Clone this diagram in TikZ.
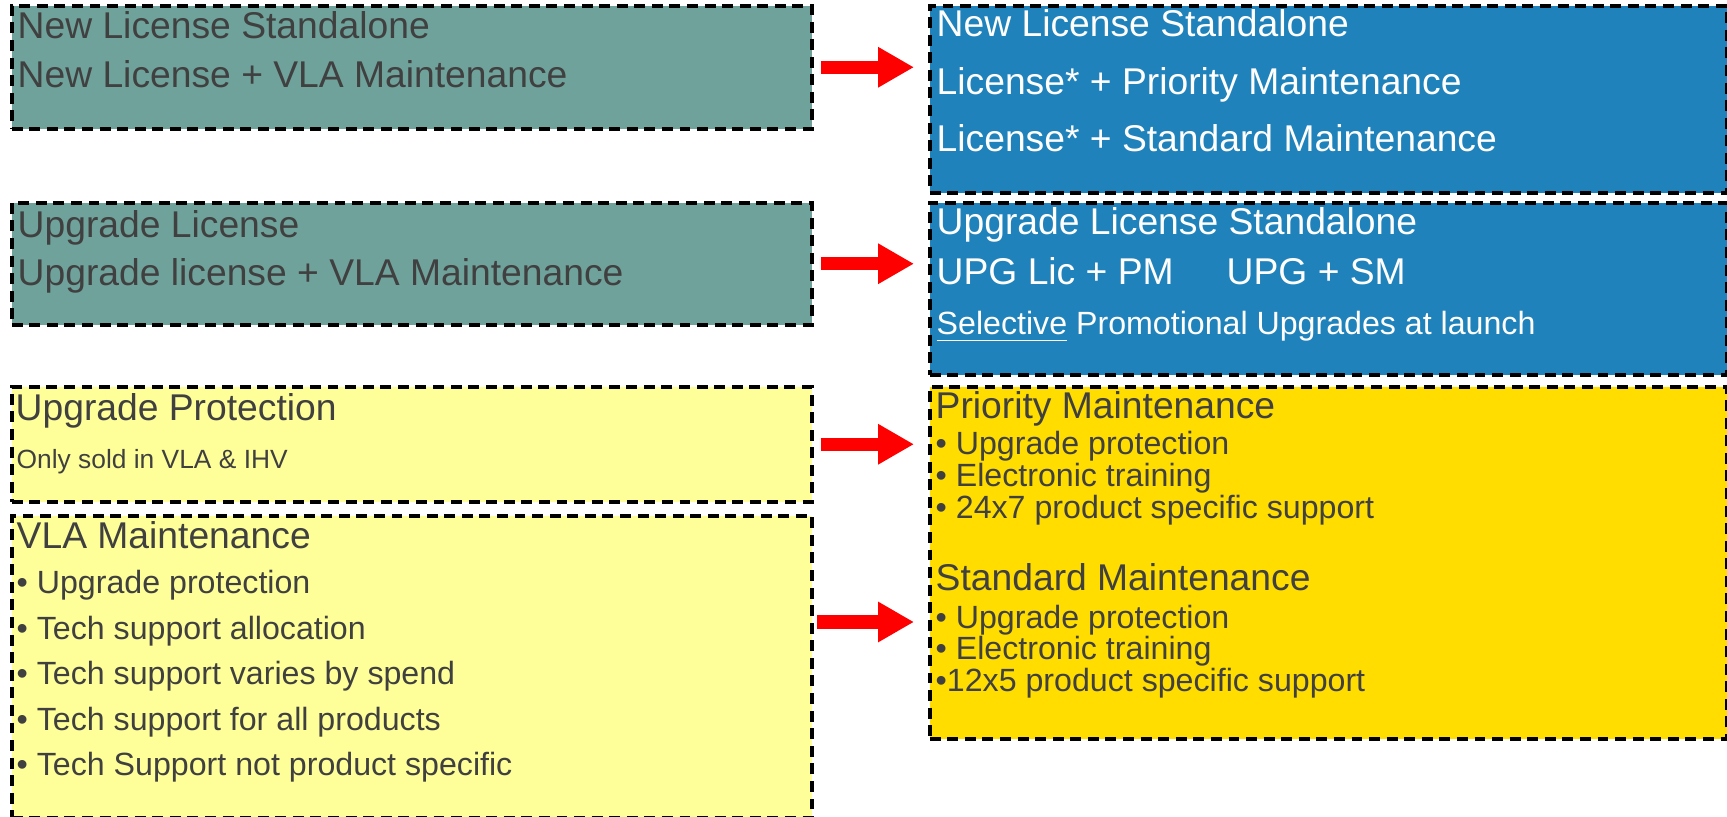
\documentclass[tikz,border=0pt]{standalone}
\usepackage{fontspec}
\setmainfont{Liberation Sans}
\usetikzlibrary{arrows.meta}
\usepackage{xcolor}

\definecolor{tealfill}{HTML}{6FA29B}
\definecolor{bluefill}{HTML}{1F82BB}
\definecolor{paleyellow}{HTML}{FFFF99}
\definecolor{goldfill}{HTML}{FFDD00}
\definecolor{darktext}{HTML}{404040}

\newcommand{\headsize}{\fontsize{10.6pt}{12pt}\selectfont}
\newcommand{\bodysize}{\fontsize{9.15pt}{11pt}\selectfont}
\newcommand{\smallsize}{\fontsize{7.5pt}{9pt}\selectfont}

\begin{document}
\begin{tikzpicture}[x=0.1mm,y=-0.1mm,line cap=butt,
  box/.style={draw=black,line width=1pt,dash pattern=on 3.1pt off 1.9pt,anchor=north west,inner sep=0pt},
  tealbox/.style={box,fill=tealfill},
  bluebox/.style={box,fill=bluefill},
  yellowbox/.style={box,fill=paleyellow},
  goldbox/.style={box,fill=goldfill},
  txt/.style={anchor=base west,inner sep=0pt,text=darktext,font=\headsize},
  wtxt/.style={txt,text=white},
  bullet/.style={txt,font=\bodysize},
  redarrow/.style={draw=red,line width=3.8pt,-{Triangle[length=10.2pt,width=10.8pt]},shorten <=0.7mm,shorten >=1.4mm}]
\useasboundingbox (0,0) rectangle (1727,817);
% boxes, old offer on the left, new offer on the right
\node[tealbox,minimum width=80mm,minimum height=12.3mm] (nlsOld) at (10,4) {};
\node[bluebox,minimum width=79.7mm,minimum height=18.7mm] (nlsNew) at (928,4) {};
\node[tealbox,minimum width=80mm,minimum height=12.2mm] (upgOld) at (10,201) {};
\node[bluebox,minimum width=79.7mm,minimum height=17.2mm] (upgNew) at (928,201) {};
\node[yellowbox,minimum width=80mm,minimum height=11.5mm] (upgProt) at (10,385) {};
\node[yellowbox,minimum width=80mm,minimum height=30.2mm] (vlaMaint) at (10,514) {};
\node[goldbox,minimum width=79.7mm,minimum height=35.2mm] (prioStd) at (928,385) {};
% texts
\node[txt] (nlsOld1) at (17,39) {New License Standalone};
\node[txt] (nlsOld2) at (17,88) {New License + VLA Maintenance};
\node[wtxt] (nlsNew1) at (936,37) {New License Standalone};
\node[wtxt] (nlsNew2) at (936,95) {License* + Priority Maintenance};
\node[wtxt] (nlsNew3) at (936,152) {License* + Standard Maintenance};
\node[txt] (upgOld1) at (17,238) {Upgrade License};
\node[txt] (upgOld2) at (17,286) {Upgrade license + VLA Maintenance};
\node[wtxt] (upgNew1) at (936,235) {Upgrade License Standalone};
\node[wtxt] (upgNew2) at (936,285) {UPG Lic + PM};
\node[wtxt] (upgNew3) at (1226,285) {UPG + SM};
\node[wtxt,font=\bodysize] (upgNew4) at (936,335) {\underline{Selective} Promotional Upgrades at launch};
\node[txt] (upgProt1) at (15,421) {Upgrade Protection};
\node[txt,font=\smallsize] (upgProt2) at (16,469) {Only sold in VLA \& IHV};
\node[txt] (vlaMaint1) at (16,549) {VLA Maintenance};
\node[bullet] (vlaMaint2) at (16,594) {• Upgrade protection};
\node[bullet] (vlaMaint3) at (16,640) {• Tech support allocation};
\node[bullet] (vlaMaint4) at (16,685) {• Tech support varies by spend};
\node[bullet] (vlaMaint5) at (16,731) {• Tech support for all products};
\node[bullet] (vlaMaint6) at (16,776) {• Tech Support not product specific};
\node[txt] (prio1) at (935,419) {Priority Maintenance};
\node[bullet] (prio2) at (935,455) {• Upgrade protection};
\node[bullet] (prio3) at (935,487) {• Electronic training};
\node[bullet] (prio4) at (935,519) {• 24x7 product specific support};
\node[txt] (std1) at (935,591) {Standard Maintenance};
\node[bullet] (std2) at (935,629) {• Upgrade protection};
\node[bullet] (std3) at (935,660) {• Electronic training};
\node[bullet] (std4) at (935,692) {•12x5 product specific support};
% arrows
\coordinate (vlaArrow) at (810,622);
\draw[redarrow] (nlsOld.east) -- (nlsOld.east -| nlsNew.west);
\draw[redarrow] (upgOld.east) -- (upgOld.east -| upgNew.west);
\draw[redarrow] (upgProt.east) -- (upgProt.east -| prioStd.west);
\draw[redarrow] (vlaArrow) -- (vlaArrow -| prioStd.west);
\end{tikzpicture}
\end{document}
